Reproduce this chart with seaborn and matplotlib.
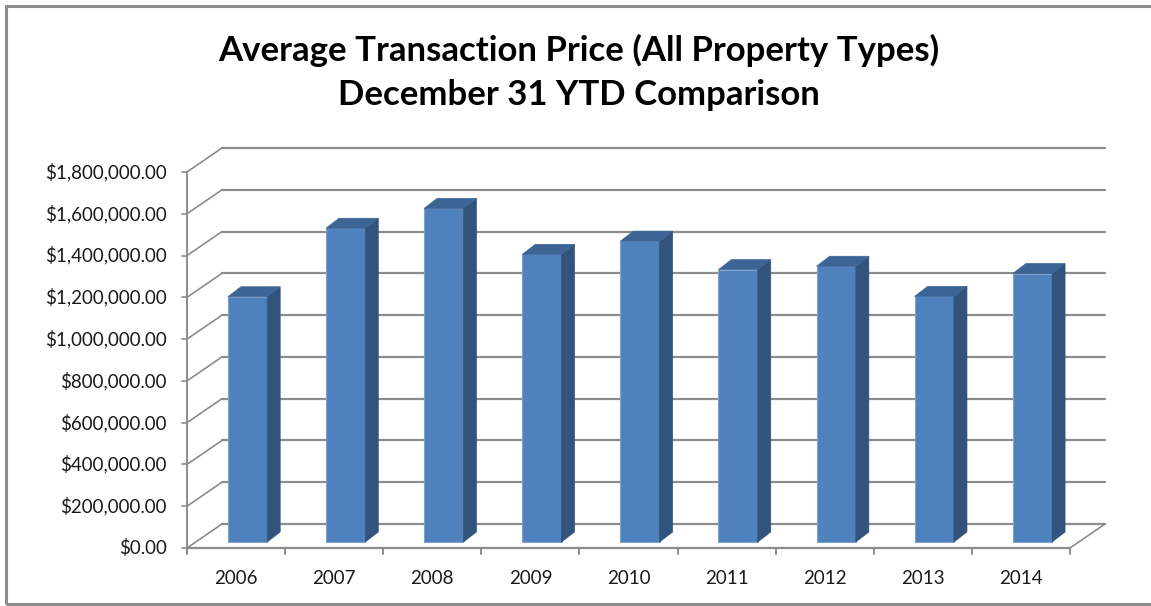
import matplotlib
matplotlib.use("Agg")
import matplotlib.pyplot as plt
import numpy as np
import pandas as pd
import seaborn as sns
from matplotlib.patches import Polygon, Rectangle
from matplotlib.transforms import offset_copy

# ---- data ----
years = ["2006", "2007", "2008", "2009", "2010", "2011", "2012", "2013", "2014"]
avg_price = [1174000, 1502000, 1597000, 1377000, 1440000, 1304000, 1320000, 1176000, 1285000]
y_ticks = [0, 200000, 400000, 600000, 800000, 1000000, 1200000, 1400000, 1600000, 1800000]

title_lines = ["Average Transaction Price (All Property Types)", "December 31 YTD Comparison"]

FRONT = "#4F81BD"
SIDE = "#32547C"
TOP = "#3C6494"
GRID = "#8C8C8C"

sns.set_theme(style="white")
plt.rcParams["font.family"] = ["Lato", "DejaVu Sans"]

W, H = 1151, 606
fig = plt.figure(figsize=(W / 100, H / 100), dpi=100)

# axes: front floor from x=187..1070 px, y 0 at 548 px, 1.8M at 172 px
ax = fig.add_axes([187 / W, (H - 548) / H, (1070 - 187) / W, (548 - 172) / H])
ax.set_xlim(-0.5, len(years) - 0.5)
ax.set_ylim(0, 1800000)
ax.axis("off")

# depth of the 3d box in data units (~35 px right, ~24 px up)
px_x = (len(years)) / (1070 - 187)
px_y = 1800000 / (548 - 172)
DX, DY = 35 * px_x, 24 * px_y
x0, x1 = -0.5, len(years) - 0.5

# back wall gridlines + side wall diagonals + left axis ticks
for v in y_ticks:
    ax.plot([x0 + DX, x1 + DX], [v + DY, v + DY], color=GRID, lw=1.6, clip_on=False, zorder=1)
    ax.plot([x0, x0 + DX], [v, v + DY], color=GRID, lw=1.2, clip_on=False, zorder=1)
    ax.plot([x0 - 5 * px_x, x0], [v, v], color=GRID, lw=1.2, clip_on=False, zorder=1)
    ax.text(x0 - 20 * px_x, v, f"${v:,.2f}", ha="right", va="center", fontsize=13.5,
            color="#1a1a1a")

# left axis line and floor
ax.plot([x0, x0], [0, 1800000], color=GRID, lw=1.4, clip_on=False, zorder=1)
ax.plot([x0, x1], [0, 0], color=GRID, lw=1.6, clip_on=False, zorder=1)
ax.plot([x1, x1 + DX], [0, DY], color=GRID, lw=1.2, clip_on=False, zorder=1)
for i in range(len(years) + 1):
    ax.plot([i - 0.5, i - 0.5], [0, -6 * px_y], color=GRID, lw=1.4, clip_on=False, zorder=1)

# bars: front faces via seaborn, pushed into the box a little
df = pd.DataFrame({"year": years, "price": avg_price})
sns.barplot(data=df, x="year", y="price", color=FRONT, width=0.4, saturation=1,
            ax=ax, zorder=3)
ax.set_xlim(-0.5, len(years) - 0.5)
ax.set_ylim(0, 1800000)
ax.axis("off")

shift = offset_copy(ax.transData, fig=fig, x=11.5, y=6, units="dots")
bdx, bdy = 13 * px_x, 10 * px_y
for p in ax.patches:
    p.set_transform(shift)
    p.set_edgecolor("#7EA2D2")
    p.set_linewidth(0.8)
    p.set_clip_on(False)
    xl, w, h = p.get_x(), p.get_width(), p.get_height()
    xr = xl + w
    side = Polygon([(xr, 0), (xr + bdx, bdy), (xr + bdx, h + bdy), (xr, h)],
                   closed=True, facecolor=SIDE, edgecolor=SIDE, lw=0.5,
                   transform=shift, clip_on=False, zorder=3)
    top = Polygon([(xl, h), (xr, h), (xr + bdx, h + bdy), (xl + bdx, h + bdy)],
                  closed=True, facecolor=TOP, edgecolor=TOP, lw=0.5,
                  transform=shift, clip_on=False, zorder=3)
    ax.add_patch(side)
    ax.add_patch(top)

# category labels
for i, yr in enumerate(years):
    ax.text(i, -31 * px_y, yr, ha="center", va="center", fontsize=13.5, color="#1a1a1a")

# title
fig.text(579 / W, 1 - 50 / H, title_lines[0], ha="center", va="center",
         fontsize=25, fontweight="bold", color="black")
fig.text(579 / W, 1 - 95 / H, title_lines[1], ha="center", va="center",
         fontsize=25, fontweight="bold", color="black")

# chart border
fig.patches.append(Rectangle((6 / W, 2 / H), 1.2, 1 - 8 / H, transform=fig.transFigure,
                             fill=False, edgecolor="#8C8C8C", lw=2.2, clip_on=False))

fig.savefig("out.png", dpi=100)
